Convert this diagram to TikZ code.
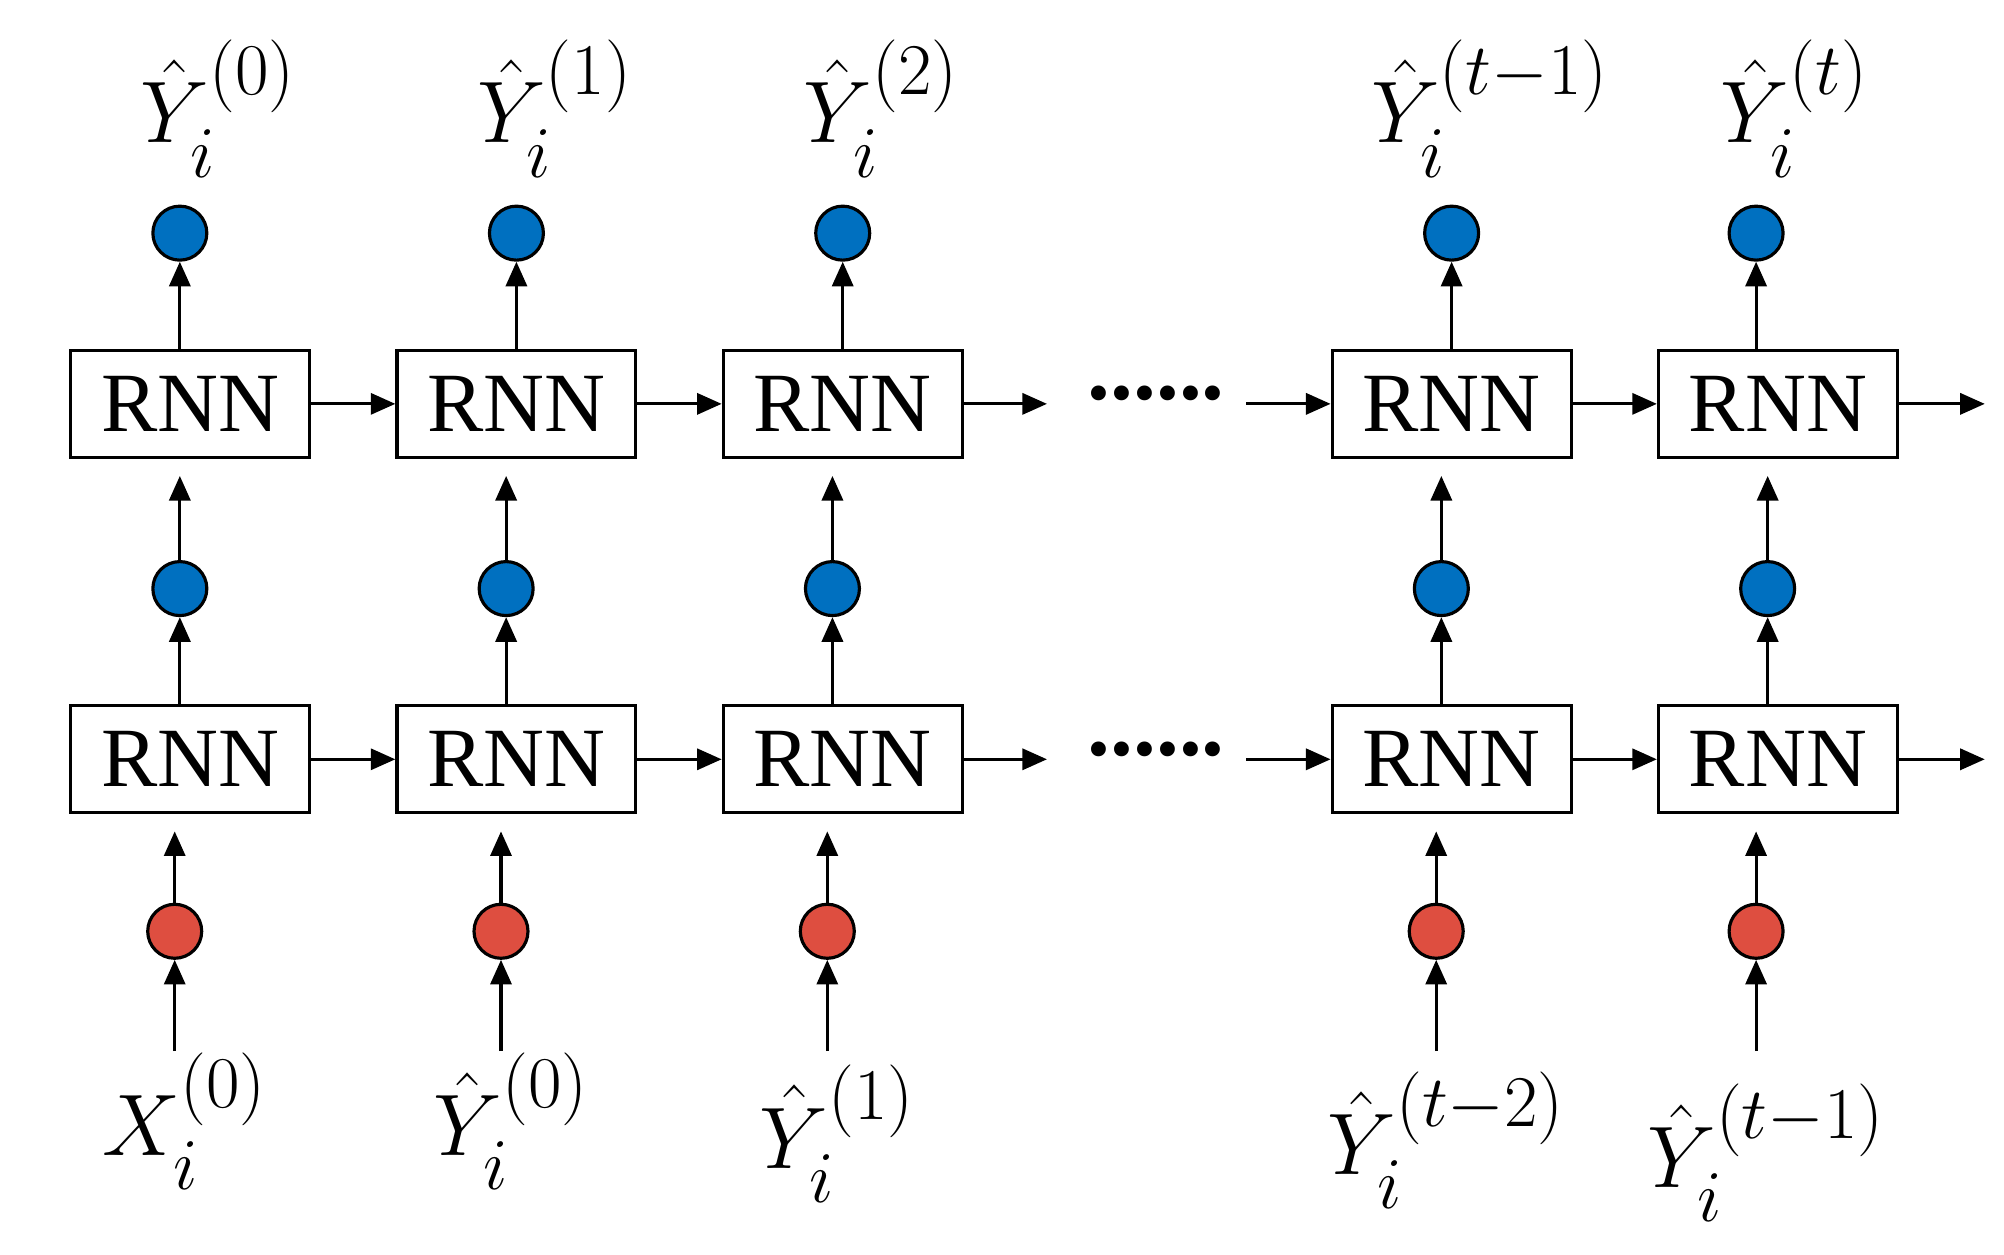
\documentclass[tikz,border=0pt]{standalone}
\usepackage{fontspec}
\setmainfont{Liberation Serif}
\usepackage{amsmath, amssymb}
\usetikzlibrary{arrows.meta}

\begin{document}
\begin{tikzpicture}[x=0.01285cm, y=-0.01274cm, >={Triangle[length=7pt,width=6pt]}, line width=0.9pt]
  \tikzstyle{rnn}=[draw, minimum width=2.39cm, minimum height=1.07cm, inner sep=0pt, font=\fontsize{24}{24}\selectfont]
  \tikzstyle{blue dot}=[draw, circle, fill={rgb,255:red,0;green,112;blue,192}, minimum size=0.54cm, inner sep=0pt]
  \tikzstyle{red dot}=[draw, circle, fill={rgb,255:red,222;green,78;blue,64}, minimum size=0.54cm, inner sep=0pt]
  \tikzstyle{lab}=[inner sep=0pt, font=\fontsize{30}{30}\selectfont]
  \useasboundingbox (0,0) rectangle (1560,985);
  % columns: index / box x / top dot x / middle dot x / red dot x / input label
  \foreach \n/\bx/\tx/\mx/\rx/\inp/\outp/\ly in {
      a/148/140/140/136/{X_i^{(0)}}/{\hat{Y}_i^{(0)}}/880,
      b/402/402/394/390/{\hat{Y}_i^{(0)}}/{\hat{Y}_i^{(1)}}/880,
      c/656/656/648/644/{\hat{Y}_i^{(1)}}/{\hat{Y}_i^{(2)}}/890,
      d/1130/1130/1122/1118/{\hat{Y}_i^{(t-2)}}/{\hat{Y}_i^{(t-1)}}/895,
      e/1384/1367/1376/1367/{\hat{Y}_i^{(t-1)}}/{\hat{Y}_i^{(t)}}/905} {
    \node [rnn] (top-\n) at (\bx,317) {RNN};
    \node [rnn] (bot-\n) at (\bx,596) {RNN};
    \node [blue dot] (out-\n) at (\tx,183) {};
    \node [blue dot] (mid-\n) at (\mx,462) {};
    \node [red dot] (in-\n) at (\rx,731) {};
    \node [lab] (olab-\n) at (\tx+30,85) {$\outp$};
    \node [lab] (ilab-\n) at (\rx+8,\ly) {$\inp$};
    \coordinate (src-\n) at (\rx,825);
    \draw [->] (top-\n.north -| out-\n) -- (out-\n);
    \draw [->] (mid-\n) -- ([yshift=-0.17cm]top-\n.south -| mid-\n);
    \draw [->] (bot-\n.north -| mid-\n) -- (mid-\n);
    \draw [->] (in-\n) -- ([yshift=-0.17cm]bot-\n.south -| in-\n);
    \draw [->] (src-\n) -- (in-\n);
  }
  \foreach \row/\y in {top/317, bot/596} {
    \draw [->] (\row-a) -- (\row-b);
    \draw [->] (\row-b) -- (\row-c);
    \draw [->] (\row-d) -- (\row-e);
    \coordinate (\row-gap) at (815,\y);
    \coordinate (\row-back) at (970,\y);
    \coordinate (\row-end) at (1545,\y);
    \draw [->] (\row-c) -- (\row-gap);
    \draw [->] (\row-back) -- (\row-d);
    \draw [->] (\row-e) -- (\row-end);
    \node [inner sep=0pt, font=\fontsize{26}{26}\selectfont\bfseries] (\row-dots) at (900,\y-8) {......};
  }
\end{tikzpicture}
\end{document}
